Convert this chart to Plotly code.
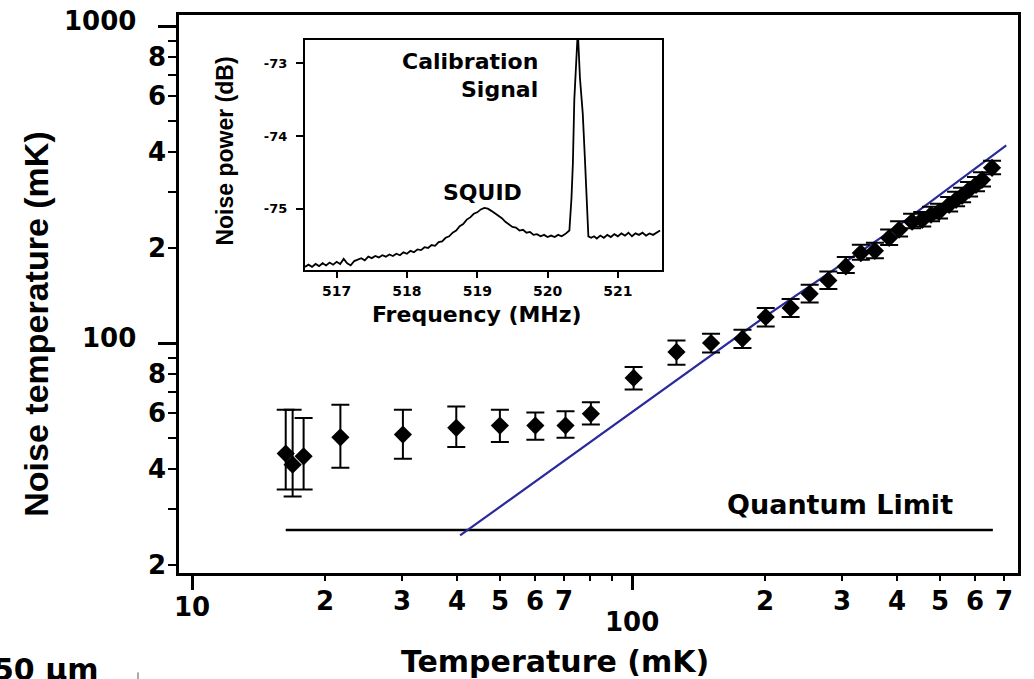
import numpy as np
import plotly.graph_objects as go

# ---------------- data ----------------
temp_mk = [16.3, 16.9, 17.9, 21.7, 30.1, 39.8, 50.0, 60.2, 70.5, 80.5,
           100.7, 126, 151, 178, 201, 229, 253, 279, 305.7, 330.7,
           356, 383.5, 404, 432.5, 456, 477.6, 498, 525, 544.5, 561.8,
           582.7, 604.3, 623.6, 657.3]
noise_mk = [44.8, 41.3, 43.9, 50.4, 51.4, 54.0, 54.9, 54.9, 54.9, 59.8,
            77.6, 93.7, 100, 103.2, 120.8, 129, 143, 157.6, 174.4, 192.2,
            195.4, 214.6, 227.7, 241.3, 244.7, 253.9, 259.4, 273, 283, 291.4,
            304.3, 315.5, 327.2, 357]
noise_hi = [61.6, 61.6, 58.0, 63.9, 61.6, 63.1, 61.6, 60.4, 60.9, 65.0,
            84.0, 101.9, 107, 110.2, 129, 137.6, 152.7, 168.2, 186.7, 204.2,
            207, 228, 242, 256, 259, 269, 275, 289, 300, 309,
            322, 334, 346, 376]
noise_lo = [34.5, 32.8, 34.5, 40.4, 43.1, 47.0, 48.7, 49.5, 50.2, 55.3,
            71.3, 85.4, 93.4, 96.4, 112.8, 120.8, 134.3, 148, 166.3, 183,
            185, 204, 217, 230, 233, 242, 247, 260, 270, 278,
            290, 301, 312, 341]

theory_t = [40.6, 100, 200, 400, 708]
theory_tn = [24.7, 60.7, 121, 233, 420]

qlimit_t = [16.3, 660]
qlimit_tn = [25.7, 25.7]

x_ticks_major = [10, 100]
x_ticks_minor = [20, 30, 40, 50, 60, 70, 80, 90, 200, 300, 400, 500, 600, 700]
y_ticks_major = [100, 1000]
y_ticks_minor = [20, 30, 40, 50, 60, 70, 80, 90, 200, 300, 400, 500, 600, 700, 800, 900]

x_tick_labels = [(10, "10"), (20, "2"), (30, "3"), (40, "4"), (50, "5"), (60, "6"), (70, "7"),
                 (100, "100"), (200, "2"), (300, "3"), (400, "4"), (500, "5"), (600, "6"), (700, "7")]
y_tick_labels = [(1000, "1000"), (800, "8"), (600, "6"), (400, "4"), (200, "2"),
                 (100, "100"), (80, "8"), (60, "6"), (40, "4"), (20, "2")]

# inset spectrum
freq_mhz = [516.55, 516.60, 516.65, 516.70, 516.75, 516.80, 516.85, 516.90, 516.95, 517.00,
            517.05, 517.10, 517.15, 517.20, 517.25, 517.30, 517.35, 517.40, 517.45, 517.50,
            517.55, 517.60, 517.65, 517.70, 517.75, 517.80, 517.85, 517.90, 517.95, 518.00,
            518.05, 518.10, 518.15, 518.20, 518.25, 518.30, 518.35, 518.40, 518.45, 518.50,
            518.55, 518.60, 518.65, 518.70, 518.75, 518.80, 518.85, 518.90, 518.95, 519.00,
            519.05, 519.10, 519.15, 519.20, 519.25, 519.30, 519.35, 519.40, 519.45, 519.50,
            519.55, 519.60, 519.65, 519.70, 519.75, 519.80, 519.85, 519.90, 519.95, 520.00,
            520.05, 520.10, 520.15, 520.20, 520.25, 520.31, 520.34, 520.36, 520.38, 520.41,
            520.43, 520.46, 520.50, 520.53, 520.55, 520.58, 520.62, 520.66, 520.70, 520.75,
            520.80, 520.85, 520.90, 520.95, 521.00, 521.05, 521.10, 521.15, 521.20, 521.25,
            521.30, 521.35, 521.40, 521.45, 521.50, 521.55, 521.60]
power_db = [-75.80, -75.77, -75.80, -75.76, -75.79, -75.75, -75.78, -75.74, -75.77, -75.73,
            -75.76, -75.69, -75.75, -75.78, -75.72, -75.70, -75.68, -75.71, -75.66, -75.68,
            -75.65, -75.67, -75.64, -75.66, -75.63, -75.65, -75.62, -75.64, -75.60, -75.62,
            -75.58, -75.60, -75.56, -75.57, -75.53, -75.54, -75.50, -75.51, -75.46, -75.45,
            -75.40, -75.38, -75.33, -75.30, -75.24, -75.21, -75.15, -75.12, -75.07, -75.05,
            -75.01, -74.99, -75.00, -75.03, -75.06, -75.10, -75.13, -75.18, -75.21, -75.25,
            -75.26, -75.30, -75.29, -75.33, -75.32, -75.36, -75.35, -75.38, -75.36, -75.39,
            -75.37, -75.39, -75.36, -75.38, -75.35, -75.30, -74.85, -74.37, -73.50, -72.90,
            -72.55, -73.20, -73.69, -74.30, -74.83, -75.38, -75.40, -75.38, -75.41, -75.37,
            -75.40, -75.36, -75.39, -75.35, -75.38, -75.34, -75.37, -75.33, -75.38, -75.34,
            -75.36, -75.33, -75.37, -75.34, -75.36, -75.33, -75.30]

# ---------------- layout helpers ----------------
FIG_W, FIG_H = 1034, 679
L, T, R_EDGE, B_EDGE = 179, 15, 1018, 573.5
PW, PH = R_EDGE - L, B_EDGE - T


def px(x):
    return (x - L) / PW


def py(y):
    return (B_EDGE - y) / PH


X_RANGE = [0.9696, 2.8767]
Y_RANGE = [1.2743, 3.035]

BOLD = "DejaVu Sans"
ARIAL = "Liberation Sans"

fig = go.Figure()

# quantum limit line
fig.add_trace(go.Scatter(x=qlimit_t, y=qlimit_tn, mode="lines",
                         line=dict(color="black", width=2.5), showlegend=False,
                         xaxis="x", yaxis="y"))
# theory line
fig.add_trace(go.Scatter(x=theory_t, y=theory_tn, mode="lines",
                         line=dict(color="#2a2a9c", width=2.2), showlegend=False,
                         xaxis="x", yaxis="y"))
# data
err_plus = [h - v for h, v in zip(noise_hi, noise_mk)]
err_minus = [v - l for v, l in zip(noise_mk, noise_lo)]
fig.add_trace(go.Scatter(x=temp_mk, y=noise_mk, mode="markers",
                         marker=dict(symbol="diamond", size=14, color="black"),
                         error_y=dict(type="data", symmetric=False, array=err_plus,
                                      arrayminus=err_minus, color="black",
                                      thickness=2, width=9),
                         showlegend=False, xaxis="x", yaxis="y"))
# inset spectrum
fig.add_trace(go.Scatter(x=freq_mhz, y=power_db, mode="lines",
                         line=dict(color="black", width=1.8), showlegend=False,
                         xaxis="x2", yaxis="y2"))

annotations = []
# x tick labels
x_label_y = {"10": 608, "100": 623}
for v, s in x_tick_labels:
    yy = x_label_y.get(s, 601.5)
    annotations.append(dict(x=np.log10(v), y=py(yy), xref="x", yref="paper", text=s,
                            showarrow=False, xanchor="center", yanchor="middle",
                            font=dict(family=BOLD, size=26, color="black", weight="bold")))
# y tick labels
for v, s in y_tick_labels:
    ypix = B_EDGE - (np.log10(v) - Y_RANGE[0]) / (Y_RANGE[1] - Y_RANGE[0]) * PH
    if s in ("1000", "100"):
        xr, ypix = 138, ypix - 5
    else:
        xr = 168
    annotations.append(dict(x=px(xr), y=py(ypix), xref="paper", yref="paper", text=s,
                            showarrow=False, xanchor="right", yanchor="middle",
                            font=dict(family=BOLD, size=26, color="black", weight="bold")))
# axis titles
annotations.append(dict(x=px(555), y=py(662), xref="paper", yref="paper",
                        text="Temperature (mK)", showarrow=False,
                        xanchor="center", yanchor="middle",
                        font=dict(family=BOLD, size=30, color="black", weight="bold")))
annotations.append(dict(x=px(36), y=py(325), xref="paper", yref="paper",
                        text="Noise temperature (mK)", showarrow=False, textangle=-90,
                        xanchor="center", yanchor="middle",
                        font=dict(family=ARIAL, size=34, color="black", weight="bold")))
annotations.append(dict(x=px(840), y=py(505), xref="paper", yref="paper",
                        text="Quantum Limit", showarrow=False,
                        xanchor="center", yanchor="middle",
                        font=dict(family=BOLD, size=27, color="black", weight="bold")))
# inset texts
annotations.append(dict(x=px(540), y=py(61.7), xref="paper", yref="paper",
                        text="Calibration", showarrow=False,
                        xanchor="right", yanchor="middle",
                        font=dict(family=BOLD, size=22, color="black", weight="bold")))
annotations.append(dict(x=px(540), y=py(90), xref="paper", yref="paper",
                        text="Signal", showarrow=False,
                        xanchor="right", yanchor="middle",
                        font=dict(family=BOLD, size=22, color="black", weight="bold")))
annotations.append(dict(x=px(482.5), y=py(193), xref="paper", yref="paper",
                        text="SQUID", showarrow=False,
                        xanchor="center", yanchor="middle",
                        font=dict(family=BOLD, size=22, color="black", weight="bold")))
annotations.append(dict(x=px(476.7), y=py(315), xref="paper", yref="paper",
                        text="Frequency (MHz)", showarrow=False,
                        xanchor="center", yanchor="middle",
                        font=dict(family=BOLD, size=22, color="black", weight="bold")))
annotations.append(dict(x=px(225), y=py(151.7), xref="paper", yref="paper",
                        text="Noise power (dB)", showarrow=False, textangle=-90,
                        xanchor="center", yanchor="middle",
                        font=dict(family=ARIAL, size=23, color="black", weight="bold")))
# cropped scale-bar label
annotations.append(dict(x=px(101), y=py(670), xref="paper", yref="paper",
                        text="50 μm", showarrow=False,
                        xanchor="right", yanchor="middle",
                        font=dict(family=BOLD, size=30, color="black", weight="bold")))

shapes = [dict(type="line", xref="paper", yref="paper", x0=px(138), x1=px(138),
               y0=py(673), y1=py(680), line=dict(color="#555", width=1))]

fig.update_layout(
    width=FIG_W, height=FIG_H,
    margin=dict(l=L, r=FIG_W - R_EDGE, t=T, b=FIG_H - B_EDGE, pad=0),
    paper_bgcolor="white", plot_bgcolor="rgba(0,0,0,0)",
    showlegend=False,
    annotations=annotations,
    shapes=shapes,
    xaxis=dict(type="log", range=X_RANGE, showgrid=False, zeroline=False,
               showline=True, linecolor="black", linewidth=2.5, mirror=True,
               tickmode="array", tickvals=x_ticks_major, ticks="outside",
               ticklen=14, tickwidth=2.5, tickcolor="black", showticklabels=False,
               minor=dict(tickmode="array", tickvals=x_ticks_minor, ticks="outside",
                          ticklen=5, tickwidth=2, tickcolor="black", showgrid=False)),
    yaxis=dict(type="log", range=Y_RANGE, showgrid=False, zeroline=False,
               showline=True, linecolor="black", linewidth=2.5, mirror=True,
               tickmode="array", tickvals=y_ticks_major, ticks="outside",
               ticklen=18, tickwidth=2.5, tickcolor="black", showticklabels=False,
               minor=dict(tickmode="array", tickvals=y_ticks_minor, ticks="outside",
                          ticklen=8, tickwidth=2, tickcolor="black", showgrid=False)),
    xaxis2=dict(domain=[px(305), px(661.5)], anchor="y2", range=[516.55, 521.62],
                showgrid=False, zeroline=False, showline=True, linecolor="black",
                linewidth=2.2, mirror=True, tickmode="array",
                tickvals=[517, 518, 519, 520, 521], ticks="outside", ticklen=6,
                tickwidth=2, tickcolor="black", ticklabelstandoff=1,
                tickfont=dict(family=BOLD, size=14, color="black", weight="bold")),
    yaxis2=dict(domain=[py(270), py(40)], anchor="x2", range=[-75.84, -72.68],
                showgrid=False, zeroline=False, showline=True, linecolor="black",
                linewidth=2.2, mirror=True, tickmode="array",
                tickvals=[-75, -74, -73], ticktext=["-75", "-74", "-73"],
                ticks="outside", ticklen=7, tickwidth=2, tickcolor="black",
                ticklabelstandoff=6,
                tickfont=dict(family=BOLD, size=13, color="black", weight="bold")),
)

fig.write_html("out.html")
